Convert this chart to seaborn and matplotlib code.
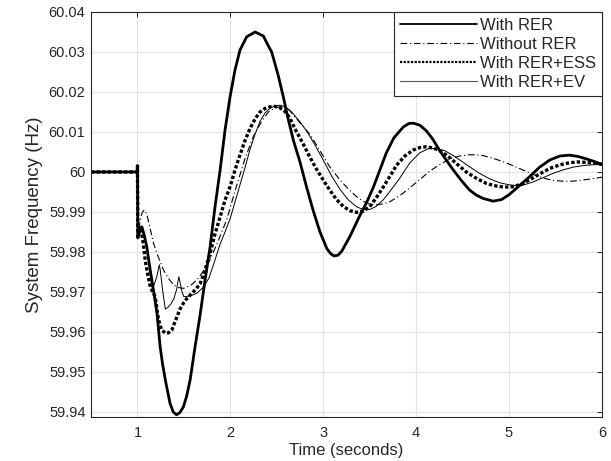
import numpy as np
import pandas as pd
import matplotlib
matplotlib.use("Agg")
import matplotlib.pyplot as plt
import seaborn as sns

# ---- data ----
t_rer = [0.5, 0.999, 1.0, 1.004, 1.025, 1.047, 1.075, 1.10, 1.137, 1.172, 1.21, 1.244, 1.27, 1.30,
         1.35, 1.385, 1.42, 1.455, 1.495, 1.53, 1.567, 1.62, 1.674, 1.728, 1.782, 1.835, 1.89,
         1.943, 1.997, 2.05, 2.104, 2.176, 2.267, 2.355, 2.41, 2.445, 2.517, 2.57, 2.62, 2.68,
         2.75, 2.82, 2.89, 2.965, 3.04, 3.08, 3.115, 3.16, 3.20, 3.29, 3.39, 3.47, 3.54, 3.61,
         3.68, 3.76, 3.86, 3.92, 3.97, 4.04, 4.11, 4.18, 4.25, 4.33, 4.40, 4.49, 4.575, 4.65,
         4.72, 4.83, 4.92, 5.0, 5.11, 5.22, 5.33, 5.44, 5.55, 5.65, 5.74, 5.83, 5.92, 6.0]
v_rer = [60.0, 60.0, 60.0015, 59.9835, 59.9858, 59.9863, 59.984, 59.9813, 59.9755, 59.9705,
         59.9647, 59.9563, 59.952, 59.948, 59.9422, 59.9400, 59.9393, 59.9398, 59.9413, 59.9440,
         59.948, 59.9563, 59.9642, 59.973, 59.9813, 59.9913, 60.0005, 60.0105, 60.0188, 60.0255,
         60.0305, 60.0338, 60.0350, 60.0340, 60.0315, 60.0300, 60.0240, 60.0188, 60.0135,
         60.0078, 60.0025, 59.9963, 59.9905, 59.9850, 59.9808, 59.9796, 59.979, 59.9792,
         59.9802, 59.984, 59.9889, 59.9925, 59.9962, 60.0005, 60.0048, 60.0085, 60.0112,
         60.0121, 60.0122, 60.0117, 60.0103, 60.0082, 60.0055, 60.0028, 60.0005, 59.9978,
         59.9955, 59.9942, 59.9934, 59.9927, 59.9931, 59.9943, 59.9965, 59.9988, 60.0012,
         60.003, 60.0040, 60.0042, 60.0039, 60.0033, 60.0026, 60.0019]

t_norer = [0.5, 0.999, 1.0, 1.004, 1.03, 1.05, 1.072, 1.10, 1.14, 1.172, 1.22, 1.28, 1.33, 1.387,
           1.44, 1.495, 1.57, 1.64, 1.71, 1.78, 1.87, 1.96, 2.06, 2.16, 2.25, 2.34, 2.41, 2.48,
           2.55, 2.60, 2.64, 2.72, 2.79, 2.86, 2.96, 3.07, 3.18, 3.29, 3.36, 3.43, 3.50, 3.57,
           3.64, 3.72, 3.82, 3.93, 4.04, 4.147, 4.25, 4.36, 4.47, 4.575, 4.65, 4.72, 4.83, 4.935,
           5.04, 5.15, 5.26, 5.366, 5.47, 5.58, 5.69, 5.795, 5.9, 6.0]
v_norer = [60.0, 60.0, 60.0015, 59.9835, 59.988, 59.9898, 59.9905, 59.9895, 59.9855, 59.9822,
           59.979, 59.9755, 59.9735, 59.9718, 59.9711, 59.9709, 59.9716, 59.973, 59.9752, 59.978,
           59.9828, 59.988, 59.996, 60.0035, 60.009, 60.0128, 60.015, 60.0160, 60.0164, 60.0160,
           60.0153, 60.0131, 60.0112, 60.0093, 60.0055, 60.0013, 59.9980, 59.9953, 59.9938,
           59.9927, 59.9920, 59.9918, 59.9920, 59.9926, 59.9940, 59.9960, 59.9981, 60.0002,
           60.0018, 60.0032, 60.0040, 60.0043, 60.0043, 60.0041, 60.0034, 60.0026, 60.0016,
           60.0005, 59.9994, 59.9985, 59.9979, 59.9977, 59.9977, 59.998, 59.9983, 59.9987]

t_ess = [0.5, 0.999, 1.0, 1.004, 1.03, 1.055, 1.083, 1.11, 1.137, 1.165, 1.19, 1.227, 1.26, 1.30,
         1.335, 1.37, 1.42, 1.46, 1.495, 1.53, 1.567, 1.62, 1.674, 1.728, 1.78, 1.835, 1.89, 1.943,
         2.0, 2.05, 2.10, 2.157, 2.21, 2.267, 2.32, 2.375, 2.43, 2.48, 2.53, 2.59, 2.64, 2.70,
         2.78, 2.85, 2.92, 3.0, 3.07, 3.14, 3.215, 3.29, 3.36, 3.43, 3.50, 3.57, 3.64, 3.72,
         3.79, 3.88, 3.97, 4.04, 4.11, 4.18, 4.25, 4.34, 4.43, 4.54, 4.65, 4.76, 4.86, 4.95,
         5.04, 5.13, 5.22, 5.33, 5.44, 5.55, 5.65, 5.74, 5.83, 5.92, 6.0]
v_ess = [60.0, 60.0, 60.0015, 59.9835, 59.9862, 59.9835, 59.978, 59.9745, 59.9713, 59.970,
         59.9688, 59.9630, 59.9605, 59.9597, 59.9598, 59.9605, 59.9635, 59.9658, 59.9672, 59.9683,
         59.9692, 59.9705, 59.9720, 59.9755, 59.9795, 59.9845, 59.9888, 59.993, 59.9965, 60.0005,
         60.004, 60.0078, 60.0108, 60.0133, 60.015, 60.0159, 60.0163, 60.0164, 60.0161, 60.0151,
         60.0135, 60.0106, 60.0072, 60.0040, 60.0010, 59.9980, 59.9955, 59.9932, 59.9914,
         59.9903, 59.9899, 59.9902, 59.9913, 59.9935, 59.9960, 59.9990, 60.0017, 60.0040,
         60.0055, 60.0061, 60.0063, 60.0060, 60.0054, 60.0040, 60.0022, 60.0000, 59.9984,
         59.9971, 59.9965, 59.9962, 59.9963, 59.9969, 59.9980, 59.9995, 60.0009, 60.0018,
         60.0023, 60.0025, 60.0024, 60.0022, 60.0019]

t_ev = [0.5, 0.999, 1.0, 1.004, 1.025, 1.047, 1.075, 1.10, 1.13, 1.155, 1.18, 1.21, 1.235, 1.245,
        1.27, 1.30, 1.33, 1.36, 1.39, 1.42, 1.445, 1.455, 1.48, 1.50, 1.57, 1.64, 1.71, 1.77,
        1.835, 1.89, 1.943, 2.0, 2.05, 2.10, 2.157, 2.21, 2.267, 2.32, 2.375, 2.43, 2.48, 2.535,
        2.60, 2.66, 2.74, 2.82, 2.91, 3.0, 3.09, 3.18, 3.27, 3.36, 3.43, 3.50, 3.57, 3.645, 3.73,
        3.82, 3.93, 4.04, 4.13, 4.22, 4.31, 4.40, 4.49, 4.575, 4.68, 4.79, 4.90, 5.0, 5.08, 5.15,
        5.26, 5.37, 5.48, 5.58, 5.69, 5.80, 5.9, 6.0]
v_ev = [60.0, 60.0, 60.0015, 59.9835, 59.9858, 59.9863, 59.984, 59.9813, 59.976, 59.9713,
        59.9718, 59.974, 59.9768, 59.9755, 59.9705, 59.9657, 59.9662, 59.967, 59.9682, 59.9705,
        59.9738, 59.9728, 59.970, 59.9688, 59.9690, 59.9697, 59.9712, 59.9735, 59.978, 59.982,
        59.985, 59.9885, 59.9925, 59.9965, 60.0010, 60.0055, 60.0095, 60.0127, 60.0148, 60.016,
        60.0165, 60.0167, 60.0162, 60.0150, 60.0128, 60.0103, 60.0068, 60.003, 59.9990, 59.9957,
        59.9930, 59.9913, 59.9906, 59.9906, 59.9914, 59.9930, 59.9955, 59.9983, 60.0022,
        60.0048, 60.0058, 60.0059, 60.0053, 60.0041, 60.0027, 60.0013, 59.9997, 59.9983,
        59.9973, 59.9968, 59.9966, 59.9967, 59.9975, 59.9986, 59.9997, 60.0005, 60.0012,
        60.0016, 60.0018, 60.0019]

series_labels = ["With RER", "Without RER", "With RER+ESS", "With RER+EV"]
x_ticks = [1, 2, 3, 4, 5, 6]
x_tick_labels = ["1", "2", "3", "4", "5", "6"]
y_ticks = [59.94, 59.95, 59.96, 59.97, 59.98, 59.99, 60.0, 60.01, 60.02, 60.03, 60.04]
y_tick_labels = ["59.94", "59.95", "59.96", "59.97", "59.98", "59.99", "60",
                 "60.01", "60.02", "60.03", "60.04"]

# ---- styling ----
sns.set_theme(style="white")
plt.rcParams["font.family"] = ["Liberation Sans", "DejaVu Sans"]

fig = plt.figure(figsize=(6.11, 4.61), dpi=100)
ax = fig.add_axes([0.149, 0.096, 0.836, 0.878])

axcol = "#262626"
styles = [
    dict(color="black", linewidth=2.0, linestyle="-"),
    dict(color="black", linewidth=0.8, linestyle=(0, (6, 2.5, 1, 2.5))),
    dict(color="black", linewidth=2.4, linestyle=(0, (1, 0.65))),
    dict(color="black", linewidth=0.7, linestyle="-"),
]
data = [(t_rer, v_rer), (t_norer, v_norer), (t_ess, v_ess), (t_ev, v_ev)]
for (tt, vv), lab, st in zip(data, series_labels, styles):
    sns.lineplot(x=tt, y=vv, ax=ax, estimator=None, sort=False, label=lab, **st)

ax.set_xlim(0.5, 6.0)
ax.set_ylim(59.9388, 60.04)
ax.set_xticks(x_ticks)
ax.set_xticklabels(x_tick_labels)
ax.set_yticks(y_ticks)
ax.set_yticklabels(y_tick_labels)
ax.grid(True, color="#e3e3e3", linewidth=0.8)
ax.set_axisbelow(True)
for s in ax.spines.values():
    s.set_color(axcol)
    s.set_linewidth(0.8)
ax.tick_params(direction="in", length=3.5, width=0.7, colors=axcol, labelsize=10.5,
               top=True, right=True, labelcolor="#262626")
ax.tick_params(axis="x", pad=7)
ax.tick_params(axis="y", pad=4)
ax.set_xlabel("Time (seconds)", fontsize=12, color="#262626", labelpad=2)
ax.set_ylabel("System Frequency (Hz)", fontsize=13.5, color="#262626", labelpad=4)

leg = ax.legend(loc="upper right", fontsize=12, frameon=True, fancybox=False,
                edgecolor=axcol, handlelength=4.6, handletextpad=0.2,
                labelspacing=0.25, borderpad=0.35, borderaxespad=0.0, framealpha=1)
leg.get_frame().set_linewidth(0.8)
leg.get_lines()[0].set_linewidth(1.3)
leg.get_lines()[1].set_linewidth(0.8)
leg.get_lines()[2].set_linewidth(1.6)
leg.get_lines()[3].set_linewidth(0.8)
leg.get_lines()[3].set_color("#555555")

fig.savefig("out.png", dpi=100)
